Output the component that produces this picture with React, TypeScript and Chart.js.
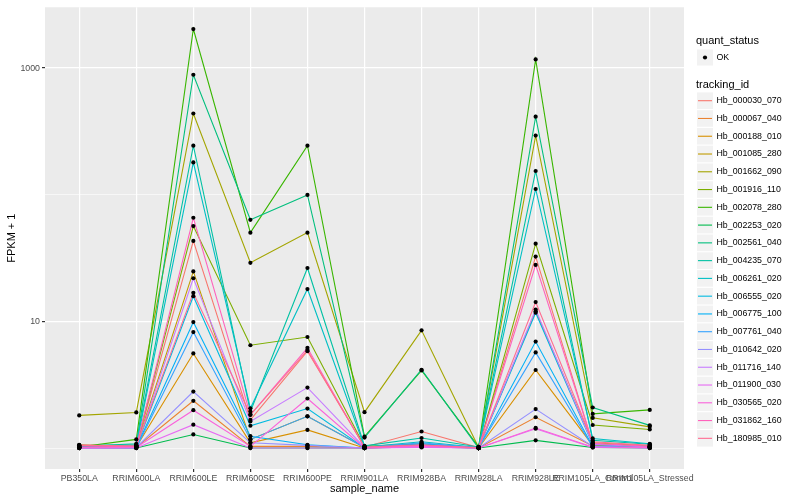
import React, { useEffect, useRef } from "react";
import { Chart, registerables } from "chart.js";

Chart.register(...registerables);

const samples = [
  "PB350LA", "RRIM600LA", "RRIM600LE", "RRIM600SE", "RRIM600PE", "RRIM901LA",
  "RRIM928BA", "RRIM928LA", "RRIM928LE", "RRIM105LA_Control", "RRIM105LA_Stressed",
];

const trackingIds = [
  "Hb_000030_070", "Hb_000067_040", "Hb_000188_010", "Hb_001085_280", "Hb_001662_090",
  "Hb_001916_110", "Hb_002078_280", "Hb_002253_020", "Hb_002561_040", "Hb_004235_070",
  "Hb_006261_020", "Hb_006555_020", "Hb_006775_100", "Hb_007761_040", "Hb_010642_020",
  "Hb_011716_140", "Hb_011900_030", "Hb_030565_020", "Hb_031862_160", "Hb_180985_010",
];

const colors = [
  "#F8766D", "#EA8331", "#D89000", "#C09B00", "#A3A500", "#7CAE00", "#39B600",
  "#00BB4E", "#00BF7D", "#00C1A3", "#00BFC4", "#00BAE0", "#00B0F6", "#35A2FF",
  "#9590FF", "#C77CFF", "#E76BF3", "#FA62DB", "#FF62BC", "#FF6C91",
];

// FPKM + 1 per sample (order of samples)
const v000030 = [1.06, 1.03, 43.2, 1.67, 5.82, 1.02, 1.35, 1.01, 32.5, 1.08, 1.03];
const v000067 = [1.02, 1.01, 2.36, 1.03, 1.03, 1.0, 1.03, 1.0, 1.75, 1.04, 1.02];
const v000188 = [1.01, 1.02, 5.58, 1.1, 1.39, 1.0, 1.04, 1.0, 4.13, 1.05, 1.02];
const v001085 = [1.03, 1.04, 24.8, 1.17, 1.78, 1.01, 1.05, 1.01, 12.0, 1.1, 1.04];
const v001662 = [1.81, 1.91, 438, 29.0, 50.2, 1.92, 8.5, 1.01, 293, 1.73, 1.47];
const v001916 = [1.05, 1.04, 56.6, 6.48, 7.53, 1.03, 1.08, 1.0, 41.1, 1.52, 1.4];
const v002078 = [1.02, 1.17, 2033, 50.2, 244, 1.23, 4.1, 1.02, 1170, 1.86, 2.0];
const v002253 = [1.0, 1.0, 1.28, 1.0, 1.0, 1.0, 1.02, 1.0, 1.15, 1.01, 1.0];
const v002561 = [1.04, 1.06, 886, 63.4, 99.6, 1.21, 4.15, 1.0, 413, 2.09, 1.51];
const v004235 = [1.03, 1.08, 244, 1.94, 26.4, 1.04, 1.2, 1.02, 154, 1.15, 1.07];
const v006261 = [1.02, 1.05, 180, 2.06, 18.0, 1.02, 1.12, 1.01, 111, 1.19, 1.08];
const v006555 = [1.01, 1.02, 15.8, 1.5, 2.05, 1.0, 1.06, 1.0, 11.7, 1.06, 1.03];
const v006775 = [1.0, 1.01, 9.88, 1.24, 1.06, 1.0, 1.08, 1.0, 6.93, 1.03, 1.01];
const v007761 = [1.01, 1.0, 8.24, 1.17, 1.78, 1.01, 1.1, 1.0, 5.69, 1.02, 1.01];
const v010642 = [1.0, 1.01, 2.79, 1.1, 1.05, 1.0, 1.02, 1.0, 2.03, 1.03, 1.0];
const v011716 = [1.01, 1.02, 21.9, 1.62, 3.0, 1.01, 1.04, 1.0, 12.4, 1.07, 1.02];
const v011900 = [1.0, 1.0, 1.53, 1.0, 1.0, 1.0, 1.01, 1.0, 1.42, 1.01, 1.0];
const v030565 = [1.0, 1.01, 1.99, 1.03, 2.46, 1.0, 1.03, 1.0, 1.44, 1.02, 1.01];
const v031862 = [1.02, 1.03, 65.8, 1.83, 6.18, 1.01, 1.05, 1.01, 27.9, 1.09, 1.03];
const v180985 = [1.05, 1.04, 16.8, 1.83, 5.93, 1.02, 1.06, 1.0, 14.2, 1.12, 1.05];

const seriesValues = [
  v000030, v000067, v000188, v001085, v001662, v001916, v002078, v002253, v002561, v004235,
  v006261, v006555, v006775, v007761, v010642, v011716, v011900, v030565, v031862, v180985,
];

const yMajor = [10, 1000];
const yGrid = [1, 10, 100, 1000];

const FONT = "'Liberation Sans', Arial, Helvetica, sans-serif";

const ggPlugin = {
  id: "ggstyle",
  beforeDraw(chart: any) {
    const { ctx, chartArea } = chart;
    ctx.save();
    ctx.fillStyle = "#FFFFFF";
    ctx.fillRect(0, 0, chart.width, chart.height);
    ctx.fillStyle = "#EBEBEB";
    ctx.fillRect(chartArea.left, chartArea.top, chartArea.right - chartArea.left, chartArea.bottom - chartArea.top);
    ctx.restore();
  },
  afterDraw(chart: any) {
    const { ctx, chartArea } = chart;
    ctx.save();
    ctx.fillStyle = "#000000";
    ctx.font = `11px ${FONT}`;
    ctx.textAlign = "center";
    ctx.textBaseline = "middle";
    ctx.fillText("sample_name", (chartArea.left + chartArea.right) / 2, 489);
    ctx.save();
    ctx.translate(12, (chartArea.top + chartArea.bottom) / 2);
    ctx.rotate(-Math.PI / 2);
    ctx.fillText("FPKM + 1", 0, 0);
    ctx.restore();

    const lx = 696;
    ctx.textAlign = "left";
    ctx.font = `11px ${FONT}`;
    ctx.fillText("quant_status", lx, 41);
    ctx.fillStyle = "#F2F2F2";
    ctx.fillRect(697, 49.5, 16, 16);
    ctx.fillStyle = "#000000";
    ctx.beginPath();
    ctx.arc(705, 57.5, 2.1, 0, Math.PI * 2);
    ctx.fill();
    ctx.font = `8.8px ${FONT}`;
    ctx.fillText("OK", 716.5, 57.5);

    ctx.font = `11px ${FONT}`;
    ctx.fillText("tracking_id", lx, 85);
    ctx.font = `8.8px ${FONT}`;
    const step = 17.77;
    trackingIds.forEach((id, i) => {
      const cy = 100.7 + i * step;
      ctx.fillStyle = "#F2F2F2";
      ctx.fillRect(697, cy - 8.3, 16, 16.6);
      ctx.strokeStyle = colors[i];
      ctx.lineWidth = 1.1;
      ctx.beginPath();
      ctx.moveTo(698, cy);
      ctx.lineTo(712, cy);
      ctx.stroke();
      ctx.fillStyle = "#000000";
      ctx.fillText(id, 716.5, cy);
    });
    ctx.restore();
  },
};

export default function App() {
  const ref = useRef<HTMLCanvasElement | null>(null);

  useEffect(() => {
    if (!ref.current) return;
    const lineSets = seriesValues.map((vals, i) => ({
      type: "line" as const,
      label: trackingIds[i],
      data: vals.map((v, j) => ({ x: j, y: v })),
      borderColor: colors[i],
      backgroundColor: colors[i],
      borderWidth: 1.1,
      pointRadius: 0,
      tension: 0,
      fill: false,
      order: -i,
    }));
    const pointSet = {
      type: "scatter" as const,
      label: "OK",
      data: seriesValues.flatMap((vals) => vals.map((v, j) => ({ x: j, y: v }))),
      backgroundColor: "#000000",
      borderColor: "#000000",
      pointRadius: 2.1,
      pointBorderWidth: 0,
      showLine: false,
      order: -100,
    };

    const chart = new Chart(ref.current, {
      type: "line",
      data: { datasets: [...lineSets, pointSet] as any },
      plugins: [ggPlugin],
      options: {
        animation: false,
        responsive: false,
        devicePixelRatio: 1,
        layout: { padding: { left: 0, top: 5, right: 116, bottom: 0 } },
        plugins: { legend: { display: false }, tooltip: { enabled: false } },
        scales: {
          x: {
            type: "linear",
            min: -0.6,
            max: 10.6,
            afterBuildTicks: (scale: any) => {
              scale.ticks = samples.map((_, i) => ({ value: i }));
            },
            afterFit: (scale: any) => {
              scale.height = 31;
            },
            border: { display: false },
            grid: { color: "#FFFFFF", lineWidth: 1.2, tickLength: 3, tickColor: "#333333", drawTicks: true },
            ticks: {
              autoSkip: false,
              maxRotation: 0,
              minRotation: 0,
              padding: 1,
              color: "#4D4D4D",
              font: { size: 8.8, family: FONT },
              callback: (v: any) => samples[Math.round(Number(v))] ?? "",
            },
          },
          y: {
            type: "logarithmic",
            min: 0.683,
            max: 3020,
            afterBuildTicks: (scale: any) => {
              scale.ticks = yGrid.map((v) => ({ value: v, major: yMajor.includes(v) }));
            },
            afterFit: (scale: any) => {
              scale.width = 45;
            },
            border: { display: false },
            grid: {
              color: "#FFFFFF",
              lineWidth: (c: any) => (c.tick && yMajor.includes(c.tick.value) ? 1.2 : 0.6),
              tickLength: 3,
              tickColor: (c: any) => (c.tick && yMajor.includes(c.tick.value) ? "#333333" : "rgba(0,0,0,0)"),
            },
            ticks: {
              padding: 2,
              color: "#4D4D4D",
              font: { size: 8.8, family: FONT },
              callback: (v: any) => (yMajor.includes(Number(v)) ? String(v) : ""),
            },
          },
        },
      } as any,
    });
    return () => chart.destroy();
  }, []);

  return (
    <div style={{ position: "absolute", left: 0, top: 0, width: 800, height: 500, background: "#fff" }}>
      <canvas ref={ref} width={800} height={500} style={{ width: 800, height: 500, display: "block" }} />
    </div>
  );
}
